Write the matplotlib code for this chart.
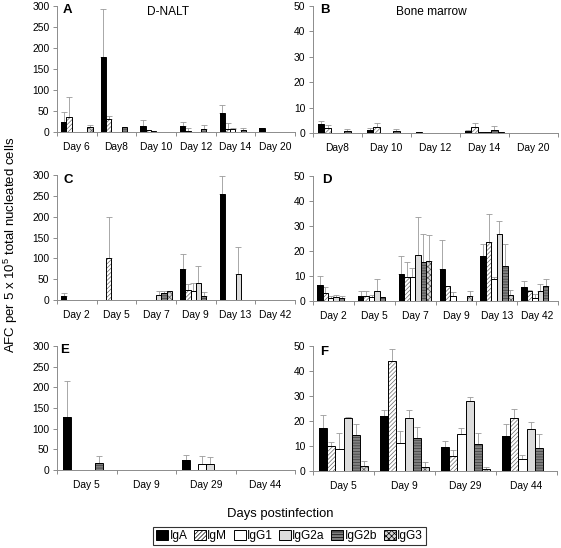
import numpy as np
import matplotlib
matplotlib.use("Agg")
import matplotlib.pyplot as plt
from matplotlib.patches import Patch

plt.rcParams['font.family'] = ['Liberation Sans', 'DejaVu Sans']
plt.rcParams['mathtext.fontset'] = 'custom'
plt.rcParams['mathtext.rm'] = 'Liberation Sans'
plt.rcParams['hatch.linewidth'] = 0.5

isotypes = ["IgA", "IgM", "IgG1", "IgG2a", "IgG2b", "IgG3"]

# ---------------- Panel A: D-NALT ----------------
days_A = ["Day 6", "Day8", "Day 10", "Day 12", "Day 14", "Day 20"]
A_IgA   = [25, 179, 15, 15, 46, 9]
A_IgM   = [36, 30, 5, 2, 7, 0]
A_IgG1  = [0, 0, 2.5, 0, 6, 0]
A_IgG2a = [0, 0, 0, 0, 0, 0]
A_IgG2b = [0, 12, 0, 6, 4.5, 0]
A_IgG3  = [12, 0, 0, 0, 0, 0]
A_up_IgA   = [48, 293, 28, 25, 64, 0]
A_up_IgM   = [84, 38, 0, 9, 21, 0]
A_up_IgG1  = [0, 0, 0, 0, 9, 0]
A_up_IgG2a = [0, 0, 0, 0, 0, 0]
A_up_IgG2b = [0, 0, 0, 17, 9, 0]
A_up_IgG3  = [17, 0, 0, 0, 0, 0]

# ---------------- Panel B: Bone marrow ----------------
days_B = ["Day8", "Day 10", "Day 12", "Day 14", "Day 20"]
B_IgA   = [3.5, 1.0, 0.3, 0.6, 0]
B_IgM   = [1.8, 2.4, 0, 2.4, 0]
B_IgG1  = [0, 0, 0, 0.5, 0]
B_IgG2a = [0, 0, 0, 0.5, 0]
B_IgG2b = [0.8, 0.8, 0, 1.0, 0]
B_IgG3  = [0, 0, 0, 0.5, 0]
B_up_IgA   = [4.6, 1.8, 0, 1.1, 0]
B_up_IgM   = [3.0, 3.8, 0, 3.9, 0]
B_up_IgG1  = [0, 0, 0, 0, 0]
B_up_IgG2a = [0, 0, 0, 0, 0]
B_up_IgG2b = [1.6, 1.6, 0, 2.9, 0]
B_up_IgG3  = [0, 0, 0, 0, 0]

# ---------------- Panel C ----------------
days_C = ["Day 2", "Day 5", "Day 7", "Day 9", "Day 13", "Day 42"]
C_IgA   = [10, 0, 0, 74, 254, 0]
C_IgM   = [0, 100, 0, 24, 0, 0]
C_IgG1  = [0, 0, 0, 21, 0, 0]
C_IgG2a = [0, 0, 12, 40, 62, 0]
C_IgG2b = [0, 0, 16, 10, 0, 0]
C_IgG3  = [0, 0, 21, 0, 0, 0]
C_up_IgA   = [18, 0, 0, 110, 297, 0]
C_up_IgM   = [0, 200, 0, 38, 0, 0]
C_up_IgG1  = [0, 0, 0, 40, 0, 0]
C_up_IgG2a = [0, 0, 21, 81, 127, 0]
C_up_IgG2b = [0, 0, 22, 20, 0, 0]
C_up_IgG3  = [0, 0, 0, 0, 0, 0]

# ---------------- Panel D ----------------
days_D = ["Day 2", "Day 5", "Day 7", "Day 9", "Day 13", "Day 42"]
D_IgA   = [6.4, 1.9, 10.7, 12.9, 18.1, 5.6]
D_IgM   = [3.3, 1.9, 9.5, 6.0, 23.5, 3.9]
D_IgG1  = [1.2, 1.5, 9.5, 2.0, 8.9, 1.3]
D_IgG2a = [1.6, 3.9, 18.5, 0, 27.0, 3.9]
D_IgG2b = [1.3, 1.7, 15.5, 0, 14.1, 5.9]
D_IgG3  = [0, 0, 16.1, 2.1, 2.3, 0]
D_up_IgA   = [9.9, 4.1, 18.1, 24.5, 22.7, 8.0]
D_up_IgM   = [5.5, 3.9, 15.5, 0, 34.9, 4.5]
D_up_IgG1  = [2.0, 2.5, 13.3, 3.8, 9.5, 3.0]
D_up_IgG2a = [2.4, 8.7, 33.6, 0, 32.0, 7.0]
D_up_IgG2b = [2.0, 0, 26.9, 0, 22.9, 8.8]
D_up_IgG3  = [0, 0, 26.4, 4.2, 4.5, 0]

# ---------------- Panel E ----------------
days_E = ["Day 5", "Day 9", "Day 29", "Day 44"]
E_IgA   = [129, 0, 24, 0]
E_IgM   = [0, 0, 0, 0]
E_IgG1  = [0, 0, 15, 0]
E_IgG2a = [0, 0, 15, 0]
E_IgG2b = [16, 0, 0, 0]
E_IgG3  = [0, 0, 0, 0]
E_up_IgA   = [216, 0, 36, 0]
E_up_IgM   = [0, 0, 0, 0]
E_up_IgG1  = [0, 0, 35, 0]
E_up_IgG2a = [0, 0, 31, 0]
E_up_IgG2b = [34, 0, 0, 0]
E_up_IgG3  = [0, 0, 0, 0]

# ---------------- Panel F ----------------
days_F = ["Day 5", "Day 9", "Day 29", "Day 44"]
F_IgA   = [17.2, 21.9, 9.5, 14.2]
F_IgM   = [10.2, 43.9, 5.9, 21.3]
F_IgG1  = [8.8, 11.4, 15.0, 4.9]
F_IgG2a = [21.3, 21.4, 28.1, 17.0]
F_IgG2b = [14.6, 13.1, 11.0, 9.4]
F_IgG3  = [2.1, 1.7, 0.9, 0]
F_up_IgA   = [22.6, 24.3, 12.0, 19.0]
F_up_IgM   = [11.8, 48.7, 8.6, 25.0]
F_up_IgG1  = [15.4, 16.0, 17.4, 6.6]
F_up_IgG2a = [21.6, 24.6, 29.8, 19.7]
F_up_IgG2b = [19.0, 17.8, 15.4, 14.7]
F_up_IgG3  = [4.0, 3.6, 1.6, 0]

styles = {
    "IgA":   dict(facecolor="black", hatch=None, hc="black"),
    "IgM":   dict(facecolor="white", hatch="////////", hc="#6a6a6a"),
    "IgG1":  dict(facecolor="white", hatch=None, hc="black"),
    "IgG2a": dict(facecolor="#dcdcdc", hatch=None, hc="black"),
    "IgG2b": dict(facecolor="#808080", hatch="------", hc="#3a3a3a"),
    "IgG3":  dict(facecolor="#d4d4d4", hatch="xxxxxx", hc="#5a5a5a"),
}

AX = "#8c8c8c"
FS = 7.4


def panel(rect_px, days, means, uppers, ymax, ystep, letter, letter_px, title=None, title_px=None):
    l, r, t, b = rect_px
    ax = fig.add_axes([l / W, 1 - b / H, (r - l) / W, (b - t) / H])
    n = len(days)
    x = np.arange(n) + 0.5
    group = 0.8
    bw = group / 6
    for k, iso in enumerate(isotypes):
        vals = np.array(means[k], dtype=float)
        ups = np.array(uppers[k], dtype=float)
        xs = x - group / 2 + bw * (k + 0.5)
        lw = np.where(vals > 0, 0.7, 0.0)
        st = styles[iso]
        # fill + hatch (hatch colour taken from the edge colour)
        ax.bar(xs, vals, width=bw, facecolor=st["facecolor"], edgecolor=st["hc"],
               hatch=st["hatch"], linewidth=0, zorder=2)
        # black outline
        ax.bar(xs, vals, width=bw, fill=False, edgecolor="black", linewidth=lw, zorder=3)
        m = ups > vals
        if m.any():
            ax.errorbar(xs[m], vals[m], yerr=[np.zeros(m.sum()), ups[m] - vals[m]],
                        fmt="none", ecolor="#9a9a9a", elinewidth=0.6, capsize=2.2,
                        capthick=0.6, zorder=1)
    ax.set_xlim(0, n)
    ax.set_ylim(0, ymax)
    ax.set_yticks(np.arange(0, ymax + 0.1, ystep))
    ax.set_xticks(x)
    ax.set_xticklabels(days)
    ax.set_xticks(np.arange(n + 1), minor=True)
    ax.tick_params(axis="x", which="major", length=0, pad=7, labelsize=FS)
    ax.tick_params(axis="x", which="minor", length=3, direction="out", color=AX, width=0.7)
    ax.tick_params(axis="y", length=3, direction="out", color=AX, width=0.7, pad=2.5, labelsize=FS)
    for s in ("top", "right"):
        ax.spines[s].set_visible(False)
    for s in ("left", "bottom"):
        ax.spines[s].set_color(AX)
        ax.spines[s].set_linewidth(0.7)
    ax.patch.set_alpha(0)
    fig.text(letter_px[0] / W, 1 - letter_px[1] / H, letter, fontsize=9.5,
             fontweight="bold", ha="left", va="center")
    if title:
        fig.text(title_px[0] / W, 1 - title_px[1] / H, title, fontsize=8.6,
                 ha="center", va="center")
    return ax


W, H = 561, 548
fig = plt.figure(figsize=(W / 100, H / 100), dpi=100)

panel((57, 295, 6, 132), days_A,
      [A_IgA, A_IgM, A_IgG1, A_IgG2a, A_IgG2b, A_IgG3],
      [A_up_IgA, A_up_IgM, A_up_IgG1, A_up_IgG2a, A_up_IgG2b, A_up_IgG3],
      300, 50, "A", (63, 10), "D-NALT", (168, 12))
panel((313, 558, 6, 133), days_B,
      [B_IgA, B_IgM, B_IgG1, B_IgG2a, B_IgG2b, B_IgG3],
      [B_up_IgA, B_up_IgM, B_up_IgG1, B_up_IgG2a, B_up_IgG2b, B_up_IgG3],
      50, 10, "B", (320, 10), "Bone marrow", (431, 12))
panel((57, 295, 175, 300), days_C,
      [C_IgA, C_IgM, C_IgG1, C_IgG2a, C_IgG2b, C_IgG3],
      [C_up_IgA, C_up_IgM, C_up_IgG1, C_up_IgG2a, C_up_IgG2b, C_up_IgG3],
      300, 50, "C", (63, 180))
panel((313, 558, 176, 301), days_D,
      [D_IgA, D_IgM, D_IgG1, D_IgG2a, D_IgG2b, D_IgG3],
      [D_up_IgA, D_up_IgM, D_up_IgG1, D_up_IgG2a, D_up_IgG2b, D_up_IgG3],
      50, 10, "D", (322, 180))
panel((57, 295, 346, 470), days_E,
      [E_IgA, E_IgM, E_IgG1, E_IgG2a, E_IgG2b, E_IgG3],
      [E_up_IgA, E_up_IgM, E_up_IgG1, E_up_IgG2a, E_up_IgG2b, E_up_IgG3],
      300, 50, "E", (60, 350))
panel((313, 557, 346, 471), days_F,
      [F_IgA, F_IgM, F_IgG1, F_IgG2a, F_IgG2b, F_IgG3],
      [F_up_IgA, F_up_IgM, F_up_IgG1, F_up_IgG2a, F_up_IgG2b, F_up_IgG3],
      50, 10, "F", (320, 352))

fig.text(11 / W, 1 - 245 / H, r"AFC per 5 x 10$\mathregular{^5}$ total nucleated cells",
         rotation=90, ha="center", va="center", fontsize=9.5)
fig.text(280 / W, 1 - 514 / H, "Days postinfection", ha="center", va="center", fontsize=9.4)

handles = [Patch(facecolor=styles[i]["facecolor"], edgecolor=styles[i]["hc"],
                 hatch=styles[i]["hatch"], linewidth=0.7) for i in isotypes]
leg = fig.legend(handles, isotypes, loc="center", bbox_to_anchor=(289.5 / W, 1 - 536 / H),
                 ncol=6, fontsize=8.6, frameon=True, fancybox=False, edgecolor="black",
                 handlelength=1.0, handleheight=1.0, handletextpad=0.1, columnspacing=0.55,
                 borderpad=0.25, borderaxespad=0)
leg.get_frame().set_linewidth(0.8)
for h in leg.legend_handles:
    h.set_edgecolor("black")

fig.savefig("out.png", dpi=100, facecolor="white")
